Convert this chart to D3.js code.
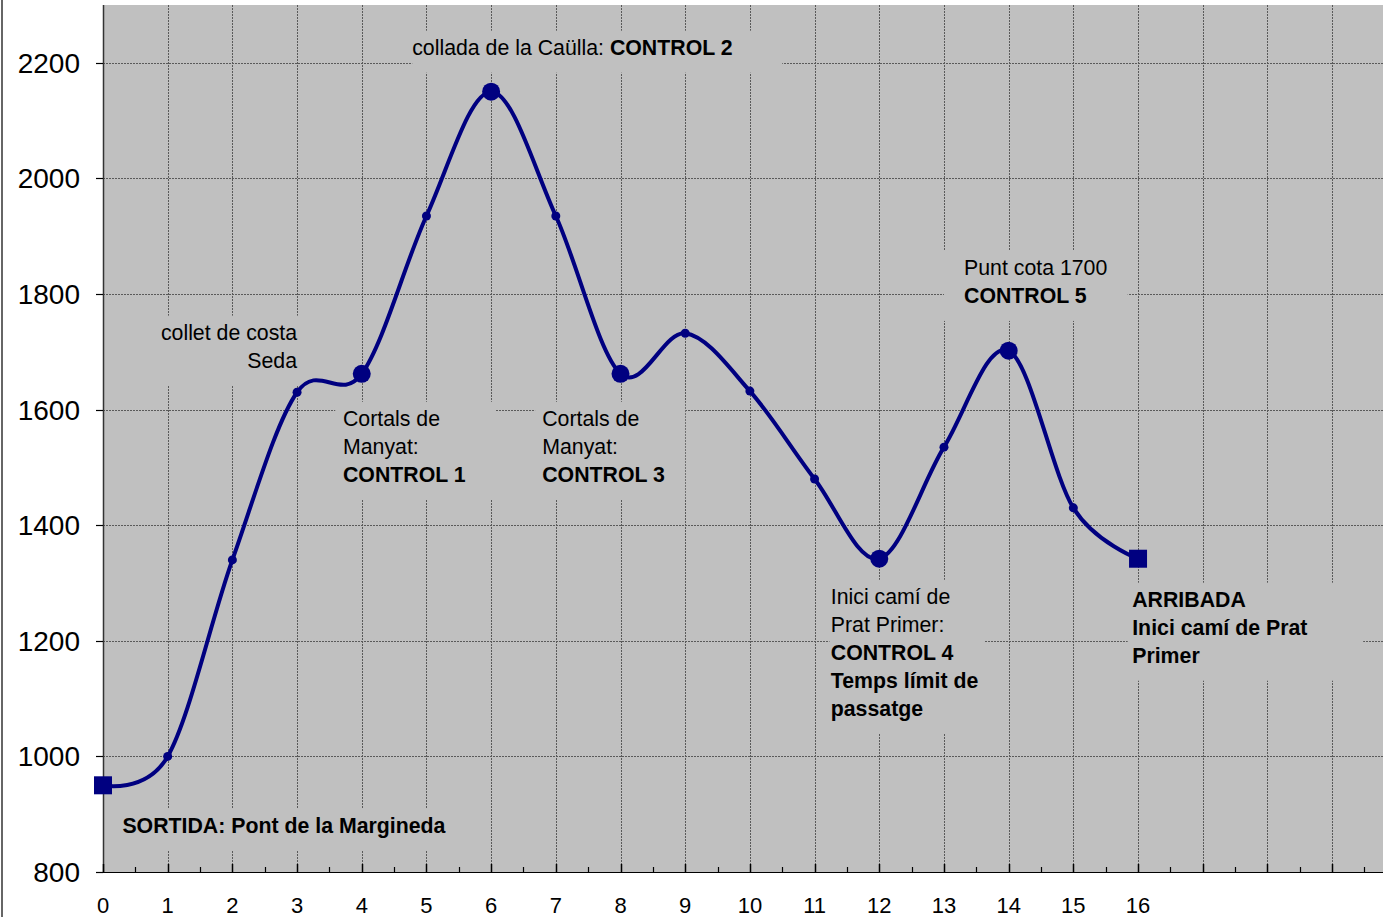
<!DOCTYPE html>
<html>
<head>
<meta charset="utf-8">
<script src="https://cdn.jsdelivr.net/npm/d3@7"></script>
<style>
  html, body { margin: 0; padding: 0; background: #fff; overflow: hidden; }
  svg { display: block; font-family: "Liberation Sans", Arial, sans-serif; }
</style>
</head>
<body>
<div id="chart"></div>
<script>
// perfil del recorregut: punt (km) i cota (m)
const km = [0, 1, 2, 3, 4, 5, 6, 7, 8, 9, 10, 11, 12, 13, 14, 15, 16];
const cota = [950, 1000, 1340, 1630, 1662, 1935, 2150, 1935, 1662, 1732, 1632, 1480, 1342, 1535, 1702, 1430, 1342];
// tipus de marcador de cada punt
const marker = ['square', 'dot', 'dot', 'dot', 'big', 'dot', 'big', 'dot', 'big', 'dot', 'dot', 'dot', 'big', 'dot', 'big', 'dot', 'square'];
const yTicks = [800, 1000, 1200, 1400, 1600, 1800, 2000, 2200];
const xTicks = d3.range(0, 17);

// etiquetes: línies de text [normal, negreta], ancorades en km / cota
const labels = [
    {lines: [['', 'SORTIDA: Pont de la Margineda']], x: 0.3, y: 868, anchor: 'start', box: [0.18, 5.35]},
    {lines: [['collet de costa', ''], ['Seda', '']], x: 3.0, y: 1721, anchor: 'end', box: [0.72, 3.03]},
    {lines: [['Cortals de', ''], ['Manyat:', ''], ['', 'CONTROL 1']], x: 3.71, y: 1572, anchor: 'start', box: [3.59, 6.06]},
    {lines: [['collada de la Caülla: ', 'CONTROL 2']], x: 4.78, y: 2214, anchor: 'start', box: [4.78, 10.5]},
    {lines: [['Cortals de', ''], ['Manyat:', ''], ['', 'CONTROL 3']], x: 6.79, y: 1572, anchor: 'start', box: [6.68, 9.0]},
    {lines: [['Inici camí de', ''], ['Prat Primer:', ''], ['', 'CONTROL 4'], ['', 'Temps límit de'], ['', 'passatge']], x: 11.25, y: 1264, anchor: 'start', box: [11.23, 13.63]},
    {lines: [['Punt cota 1700', ''], ['', 'CONTROL 5']], x: 13.31, y: 1833, anchor: 'start', box: [13.0, 15.84]},
    {lines: [['', 'ARRIBADA'], ['', 'Inici camí de Prat'], ['', 'Primer']], x: 15.91, y: 1259, anchor: 'start', box: [15.84, 19.48]}
];

const width = 1383, height = 917;
const margin = {top: 5, left: 103, bottom: 45};

const svg = d3.select('#chart').append('svg')
    .attr('width', width)
    .attr('height', height);

const x = d3.scaleLinear().domain([0, 20]).range([margin.left, margin.left + 20 * 64.69]);
const y = d3.scaleLinear().domain([800, 2300]).range([height - margin.bottom, margin.top]);

// marc esquerre de l'àrea del gràfic
svg.append('line')
    .attr('x1', 2).attr('x2', 2).attr('y1', 0).attr('y2', height)
    .attr('stroke', '#333').attr('stroke-width', 1.5);

// fons de l'àrea de traçat
svg.append('rect')
    .attr('x', x(0)).attr('y', y(2300))
    .attr('width', width - x(0)).attr('height', y(800) - y(2300))
    .attr('fill', '#c0c0c0');

// quadrícula
const grid = svg.append('g').attr('stroke', '#5a5a5a').attr('stroke-width', 1).attr('stroke-dasharray', '2,1');
grid.selectAll('.gx')
    .data(d3.range(1, 21))
    .join('line')
    .attr('x1', d => Math.round(x(d)) + 0.5).attr('x2', d => Math.round(x(d)) + 0.5)
    .attr('y1', y(2300)).attr('y2', y(800));
grid.selectAll('.gy')
    .data(yTicks.slice(1))
    .join('line')
    .attr('x1', x(0)).attr('x2', width)
    .attr('y1', d => Math.round(y(d)) + 0.5).attr('y2', d => Math.round(y(d)) + 0.5);

// caixes de les etiquetes (tapen la quadrícula)
const lineH = 28;
const labelG = svg.append('g');
labels.forEach(l => {
    const top = y(l.y) - 24;
    const h = l.lines.length * lineH + 14;
    labelG.append('rect')
        .attr('x', x(l.box[0]))
        .attr('y', top)
        .attr('width', x(l.box[1]) - x(l.box[0]))
        .attr('height', h)
        .attr('fill', '#c0c0c0');
});
labels.forEach(l => {
    const t = labelG.append('text')
        .attr('text-anchor', l.anchor)
        .attr('font-size', 21.3)
        .attr('fill', '#000');
    l.lines.forEach((ln, i) => {
        const row = t.append('tspan').attr('x', x(l.x)).attr('y', y(l.y) + i * lineH);
        if (ln[0]) row.append('tspan').text(ln[0]);
        if (ln[1]) row.append('tspan').attr('font-weight', 'bold').text(ln[1]);
    });
});

// eixos
const axisG = svg.append('g').attr('stroke', '#000');
axisG.append('line')
    .attr('x1', x(0) + 0.5).attr('x2', x(0) + 0.5)
    .attr('y1', y(2300)).attr('y2', y(800))
    .attr('stroke', '#333').attr('stroke-width', 1.5);
axisG.append('line')
    .attr('x1', x(0) - 7).attr('x2', width)
    .attr('y1', y(800) + 0.5).attr('y2', y(800) + 0.5)
    .attr('stroke-width', 1.2);

axisG.selectAll('.yt')
    .data(yTicks)
    .join('line')
    .attr('x1', x(0) - 7).attr('x2', x(0))
    .attr('y1', d => Math.round(y(d)) + 0.5).attr('y2', d => Math.round(y(d)) + 0.5)
    .attr('stroke-width', 1.2);

axisG.selectAll('.xt')
    .data(d3.range(0, 20.5, 0.5))
    .join('line')
    .attr('x1', d => Math.round(x(d)) + 0.5).attr('x2', d => Math.round(x(d)) + 0.5)
    .attr('y1', y(800))
    .attr('y2', d => y(800) - (d % 1 === 0 ? 8 : 5))
    .attr('stroke-width', d => d % 1 === 0 ? 1.5 : 1.2);

svg.append('g').selectAll('text')
    .data(yTicks)
    .join('text')
    .attr('x', 80)
    .attr('y', d => y(d) + 10)
    .attr('text-anchor', 'end')
    .attr('font-size', 28)
    .text(d => d);

svg.append('g').selectAll('text')
    .data(xTicks)
    .join('text')
    .attr('x', d => x(d))
    .attr('y', y(800) + 41)
    .attr('text-anchor', 'middle')
    .attr('font-size', 22)
    .text(d => d);

// perfil
const points = km.map((k, i) => ({k, c: cota[i], m: marker[i]}));
const line = d3.line()
    .x(d => x(d.k))
    .y(d => y(d.c))
    .curve(d3.curveCardinal.tension(0));

svg.append('path')
    .datum(points)
    .attr('d', line)
    .attr('fill', 'none')
    .attr('stroke', '#000080')
    .attr('stroke-width', 4);

const marks = svg.append('g').attr('fill', '#000080');
marks.selectAll('circle')
    .data(points.filter(d => d.m !== 'square'))
    .join('circle')
    .attr('cx', d => x(d.k))
    .attr('cy', d => y(d.c))
    .attr('r', d => d.m === 'big' ? 9 : 4.5);
marks.selectAll('rect')
    .data(points.filter(d => d.m === 'square'))
    .join('rect')
    .attr('x', d => x(d.k) - 9)
    .attr('y', d => y(d.c) - 9)
    .attr('width', 18)
    .attr('height', 18);
</script>
</body>
</html>
